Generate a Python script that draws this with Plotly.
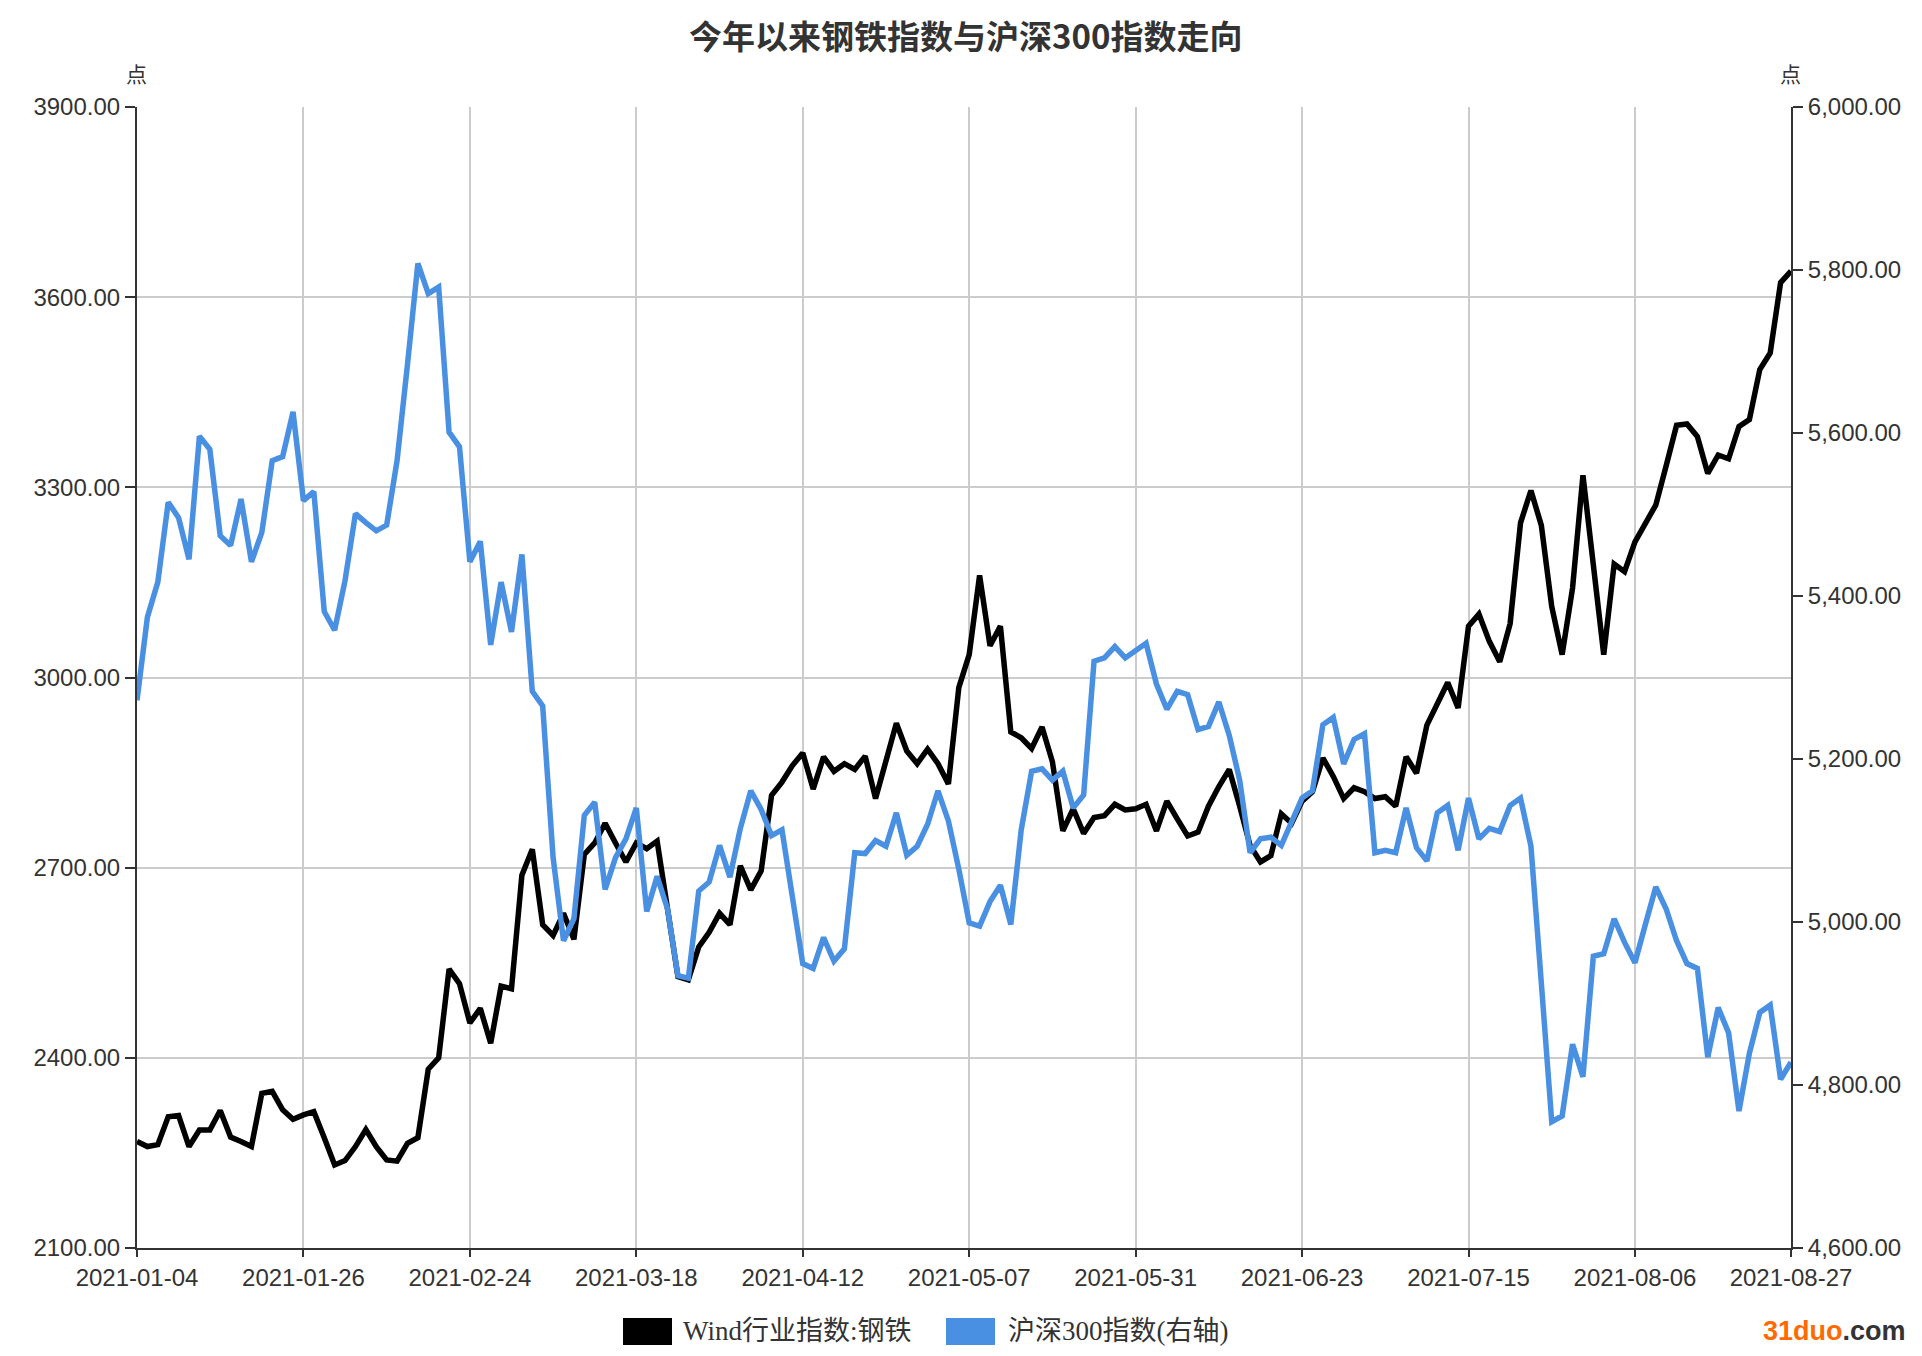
import pandas as pd
import plotly.graph_objects as go

# ---- categories: trading days 2021-01-04 .. 2021-08-27 (China A-share calendar)
holidays = ["2021-02-11", "2021-02-12", "2021-02-15", "2021-02-16", "2021-02-17",
            "2021-04-05", "2021-05-03", "2021-05-04", "2021-05-05", "2021-06-14"]
dates = [d.strftime("%Y-%m-%d") for d in pd.bdate_range("2021-01-04", "2021-08-27")
         if d.strftime("%Y-%m-%d") not in holidays]

# ---- series values
steel = [2268, 2260, 2263, 2307, 2309, 2260, 2286, 2286, 2317, 2275,
         2268, 2260, 2344, 2347, 2318, 2303, 2310, 2315, 2274, 2231,
         2238, 2260, 2287, 2260, 2239, 2237, 2265, 2274, 2382, 2400,
         2540, 2517, 2455, 2478, 2423, 2513, 2509, 2688, 2729, 2610,
         2593, 2628, 2587, 2721, 2739, 2770, 2739, 2709, 2739, 2730,
         2742, 2639, 2528, 2523, 2575, 2598, 2628, 2610, 2703, 2665,
         2695, 2814, 2835, 2861, 2881, 2824, 2875, 2852, 2864, 2855,
         2876, 2809, 2869, 2928, 2884, 2864, 2887, 2864, 2832, 2984,
         3036, 3161, 3050, 3081, 2914, 2905, 2888, 2922, 2867, 2758,
         2793, 2754, 2779, 2782, 2800, 2791, 2793, 2800, 2758, 2805,
         2777, 2750, 2756, 2797, 2828, 2855, 2797, 2735, 2709, 2719,
         2785, 2770, 2805, 2820, 2873, 2844, 2809, 2826, 2820, 2809,
         2812, 2797, 2875, 2849, 2925, 2960, 2992, 2952, 3081, 3100,
         3057, 3025, 3085, 3244, 3295, 3240, 3112, 3036, 3141, 3319,
         3182, 3036, 3179, 3167, 3214, 3244, 3272, 3334, 3398, 3400,
         3380, 3322, 3351, 3345, 3396, 3407, 3486, 3512, 3623, 3641]

hs300 = [5272, 5374, 5417, 5515, 5496, 5445, 5596, 5580, 5474, 5462,
         5519, 5442, 5478, 5566, 5571, 5626, 5517, 5528, 5381, 5358,
         5419, 5501, 5490, 5480, 5487, 5566, 5684, 5808, 5771, 5779,
         5601, 5583, 5442, 5467, 5340, 5417, 5356, 5451, 5283, 5265,
         5079, 4977, 5004, 5131, 5147, 5040, 5079, 5102, 5140, 5013,
         5056, 5016, 4934, 4931, 5038, 5049, 5094, 5055, 5115, 5161,
         5138, 5106, 5113, 5031, 4949, 4943, 4981, 4952, 4967, 5085,
         5084, 5100, 5093, 5134, 5082, 5093, 5120, 5161, 5124, 5065,
         4999, 4995, 5025, 5045, 4997, 5113, 5185, 5188, 5174, 5185,
         5140, 5156, 5320, 5324, 5338, 5324, 5333, 5342, 5292, 5261,
         5283, 5279, 5236, 5240, 5270, 5229, 5174, 5085, 5102, 5104,
         5094, 5124, 5152, 5161, 5242, 5251, 5194, 5224, 5231, 5085,
         5088, 5085, 5140, 5091, 5075, 5134, 5143, 5088, 5152, 5102,
         5115, 5111, 5143, 5152, 5093, 4925, 4755, 4762, 4850, 4810,
         4958, 4961, 5004, 4975, 4950, 4997, 5043, 5016, 4977, 4949,
         4943, 4834, 4895, 4864, 4768, 4839, 4889, 4898, 4807, 4828]

x_tick_labels = dates[0:160:16] + [dates[-1]]
left_ticks = [2100, 2400, 2700, 3000, 3300, 3600, 3900]
right_ticks = [4600, 4800, 5000, 5200, 5400, 5600, 5800, 6000]

title_text = "今年以来钢铁指数与沪深300指数走向"
name_steel = "Wind行业指数:钢铁"
name_hs = "沪深300指数(右轴)"
unit = "点"

BLACK = "#000000"
BLUE = "#4a90e2"
TXT = "#333333"

# page has an 8px body margin; work in page pixels and subtract it
OFF = 8
W, H = 1922 - 2 * OFF, 1356 - 2 * OFF
L, T = 137 - OFF, 107 - OFF
PW, PH = 1654, 1141
R, B = W - L - PW, H - T - PH


def px(x):
    return (x - OFF - L) / PW


def py(y):
    return (T + PH - (y - OFF)) / PH


fig = go.Figure()
fig.add_trace(go.Scatter(x=dates, y=steel, mode="lines", name=name_steel,
                         line=dict(color=BLACK, width=5.5), yaxis="y"))
fig.add_trace(go.Scatter(x=dates, y=hs300, mode="lines", name=name_hs,
                         line=dict(color=BLUE, width=5.5), yaxis="y2"))

tickfont = dict(family="Liberation Sans, Arial, sans-serif", size=24, color=TXT)

fig.update_layout(
    width=W, height=H,
    margin=dict(l=L, r=R, t=T, b=B, pad=0),
    paper_bgcolor="white", plot_bgcolor="white",
    showlegend=False,
    xaxis=dict(type="category", range=[0, len(dates) - 1], tickvals=x_tick_labels,
               ticktext=x_tick_labels, showgrid=True, gridcolor="#cccccc", gridwidth=1.5,
               ticks="outside", ticklen=7, tickwidth=2, tickcolor=TXT,
               showline=True, linecolor=TXT, linewidth=2, zeroline=False,
               tickfont=tickfont, tickangle=0),
    yaxis=dict(range=[2100, 3900], tickvals=left_ticks, tickformat=".2f",
               showgrid=True, gridcolor="#cccccc", gridwidth=1.5,
               ticks="outside", ticklen=10, tickwidth=2, tickcolor=TXT,
               showline=True, linecolor=TXT, linewidth=2, zeroline=False,
               tickfont=tickfont),
    yaxis2=dict(range=[4600, 6000], tickvals=right_ticks, tickformat=",.2f",
                overlaying="y", side="right", showgrid=False,
                ticks="outside", ticklen=10, tickwidth=2, tickcolor=TXT,
                showline=True, linecolor=TXT, linewidth=2, zeroline=False,
                tickfont=tickfont),
)

annotations = [
    dict(text="<b>" + title_text + "</b>", x=px(965), y=py(9), xref="paper", yref="paper",
         xanchor="center", yanchor="top", showarrow=False,
         font=dict(family="Noto Sans CJK SC", size=33, color=TXT)),
    dict(text=unit, x=px(136), y=py(73), xref="paper", yref="paper",
         xanchor="center", yanchor="middle", showarrow=False,
         font=dict(family="Noto Sans CJK SC", size=21, color=TXT)),
    dict(text=unit, x=px(1790), y=py(73), xref="paper", yref="paper",
         xanchor="center", yanchor="middle", showarrow=False,
         font=dict(family="Noto Sans CJK SC", size=21, color=TXT)),
    dict(text=name_steel, x=px(681), y=py(1331), xref="paper", yref="paper",
         xanchor="left", yanchor="middle", showarrow=False,
         font=dict(family="Liberation Serif, Noto Sans CJK SC", size=27, color=TXT)),
    dict(text=name_hs, x=px(1006), y=py(1331), xref="paper", yref="paper",
         xanchor="left", yanchor="middle", showarrow=False,
         font=dict(family="Liberation Serif, Noto Sans CJK SC", size=27, color=TXT)),
    dict(text="<b><span style='color:#ff6a00'>31duo</span><span style='color:#333333'>.com</span></b>",
         x=px(1761), y=py(1331), xref="paper", yref="paper",
         xanchor="left", yanchor="middle", showarrow=False,
         font=dict(family="Liberation Sans, Arial", size=27, color=TXT)),
]
fig.update_layout(annotations=annotations)

shapes = [
    dict(type="rect", xref="paper", yref="paper", x0=px(623), x1=px(672),
         y0=py(1318), y1=py(1345), fillcolor=BLACK, line=dict(width=0)),
    dict(type="rect", xref="paper", yref="paper", x0=px(946), x1=px(995),
         y0=py(1318), y1=py(1345), fillcolor=BLUE, line=dict(width=0)),
]
fig.update_layout(shapes=shapes)

fig.write_html("out.html")
